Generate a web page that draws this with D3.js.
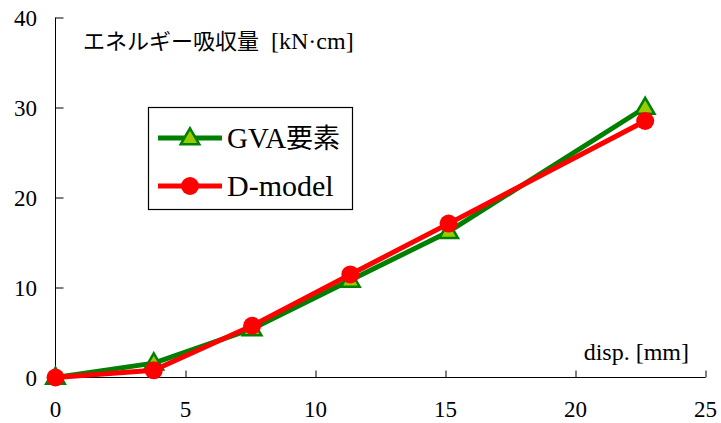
<!DOCTYPE html>
<html><head><meta charset="utf-8">
<script src="https://cdn.jsdelivr.net/npm/d3@7"></script>
<style>
body{margin:0;background:#fff}
.sf{font-family:"Liberation Serif","DejaVu Serif","Noto Serif","Times New Roman",Tinos,serif;}
.jp{font-family:"Noto Sans CJK JP",sans-serif;}
</style>
</head><body>
<svg id="c" width="721" height="423"></svg>
<script>
const disp = [0, 3.78, 7.56, 11.34, 15.12, 22.68];
const gva = [0, 1.6, 5.4, 10.8, 16.2, 30.0];
const dmodel = [0, 0.8, 5.75, 11.45, 17.1, 28.5];
const xTicks = [0, 5, 10, 15, 20, 25];
const yTicks = [0, 10, 20, 30, 40];
const seriesNames = ["GVA要素", "D-model"];

const svg = d3.select("#c");
const x = d3.scaleLinear().domain([0, 25]).range([55.5, 705.5]);
const y = d3.scaleLinear().domain([0, 40]).range([377.5, 17.5]);

// axes
const xa = svg.append("g").attr("transform", `translate(0,${y(0)})`)
  .call(d3.axisBottom(x).tickValues(xTicks).tickSize(-7).tickPadding(0).tickFormat(""));
xa.select(".domain").remove();
xa.selectAll(".tick line").attr("stroke", "#000");
xa.selectAll(".tick").filter(d => d === 0).remove();
svg.append("line").attr("x1", x(0)).attr("x2", x(25)).attr("y1", y(0)).attr("y2", y(0)).attr("stroke", "#000");

const ya = svg.append("g").attr("transform", `translate(${x(0)},0)`)
  .call(d3.axisLeft(y).tickValues(yTicks).tickSize(-8).tickFormat(""));
ya.select(".domain").remove();
ya.selectAll(".tick line").attr("stroke", "#000");
svg.append("line").attr("x1", x(0)).attr("x2", x(0)).attr("y1", y(0)).attr("y2", y(40)).attr("stroke", "#000");

// tick labels
svg.append("g").selectAll("text").data(xTicks).join("text").attr("class", "sf")
  .attr("x", d => x(d)).attr("y", 417).attr("text-anchor", "middle")
  .attr("font-size", 23).text(d => d);
svg.append("g").selectAll("text").data(yTicks).join("text").attr("class", "sf")
  .attr("x", 37).attr("y", d => y(d) + 8).attr("text-anchor", "end")
  .attr("font-size", 23).text(d => d);

// titles
const t = svg.append("text").attr("x", 83).attr("y", 49);
t.append("tspan").attr("class", "jp").attr("font-size", 22).text("エネルギー吸収量");
t.append("tspan").attr("class", "sf").attr("font-size", 24).attr("dx", 12).text("[kN·cm]");
svg.append("text").attr("class", "sf").attr("x", 689).attr("y", 360).attr("text-anchor", "end")
  .attr("font-size", 24).text("disp. [mm]");

const line = d3.line().x(d => x(d[0])).y(d => y(d[1]));
const tri = d3.symbol().type(d3.symbolTriangle).size(150);

// GVA series
const g1 = disp.map((d, i) => [d, gva[i]]);
svg.append("path").attr("d", line(g1)).attr("fill", "none").attr("stroke", "#008000").attr("stroke-width", 5).attr("stroke-linejoin", "round");
svg.append("g").selectAll("path").data(g1).join("path")
  .attr("d", tri).attr("transform", d => `translate(${x(d[0])},${y(d[1]) + 1})`)
  .attr("fill", "#99cc00").attr("stroke", "#008000").attr("stroke-width", 2.5);

// D-model series
const g2 = disp.map((d, i) => [d, dmodel[i]]);
svg.append("path").attr("d", line(g2)).attr("fill", "none").attr("stroke", "#ff0000").attr("stroke-width", 5).attr("stroke-linejoin", "round");
svg.append("g").selectAll("circle").data(g2).join("circle")
  .attr("cx", d => x(d[0])).attr("cy", d => y(d[1])).attr("r", 9).attr("fill", "#ff0000");

// legend
const lg = svg.append("g");
lg.append("rect").attr("x", 148.5).attr("y", 107.5).attr("width", 204).attr("height", 102)
  .attr("fill", "#fff").attr("stroke", "#000").attr("stroke-width", 1.2);
const rows = [138, 186];
lg.append("line").attr("x1", 158).attr("x2", 222).attr("y1", rows[0]).attr("y2", rows[0]).attr("stroke", "#008000").attr("stroke-width", 5);
lg.append("path").attr("d", tri).attr("transform", `translate(190,${rows[0] + 1})`).attr("fill", "#99cc00").attr("stroke", "#008000").attr("stroke-width", 2.5);
lg.append("line").attr("x1", 158).attr("x2", 222).attr("y1", rows[1]).attr("y2", rows[1]).attr("stroke", "#ff0000").attr("stroke-width", 5);
lg.append("circle").attr("cx", 190).attr("cy", rows[1]).attr("r", 9).attr("fill", "#ff0000");
const lt0 = lg.append("text").attr("x", 227).attr("y", rows[0] + 10);
lt0.append("tspan").attr("class", "sf").attr("font-size", 29).text("GVA");
lt0.append("tspan").attr("class", "jp").attr("font-size", 27).text("要素");
lg.append("text").attr("class", "sf").attr("x", 227).attr("y", rows[1] + 10).attr("font-size", 30).text(seriesNames[1]);
</script>
</body></html>
